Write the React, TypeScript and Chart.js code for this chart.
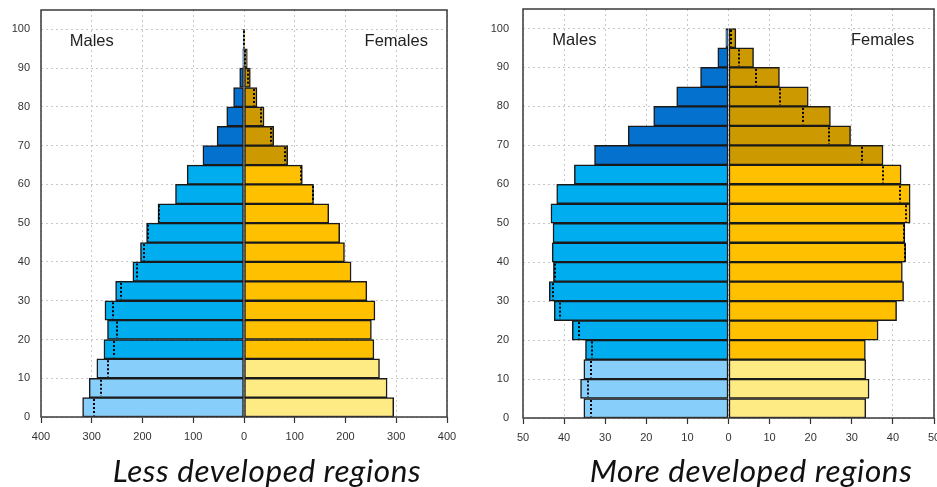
import React, { useEffect, useRef } from "react";
import { Chart, registerables } from "chart.js";

Chart.register(...registerables);

// Lower bound of each 5-year age group (0-4 ... 95-99)
const AGE_GROUPS = [0, 5, 10, 15, 20, 25, 30, 35, 40, 45, 50, 55, 60, 65, 70, 75, 80, 85, 90, 95];

// Less developed regions (millions)
const LESS_MALES = [318, 305, 290, 276, 269, 274, 253, 219, 204, 192, 169.5, 135, 112, 81, 53, 34, 20.5, 8.5, 2.5, 0.5];
const LESS_FEMALES = [295, 282, 267, 256, 251, 258, 242, 211, 198, 188.5, 167, 137, 115, 86, 58.5, 39.5, 25.6, 12.5, 6.5, 0.6];

// More developed regions (millions)
const MORE_MALES = [35.2, 36.0, 35.2, 34.8, 38.0, 42.4, 43.6, 42.6, 42.9, 42.7, 43.2, 41.8, 37.5, 32.6, 24.4, 18.2, 12.6, 6.8, 2.6, 0.65];
const MORE_FEMALES = [33.4, 34.2, 33.4, 33.3, 36.4, 40.9, 42.6, 42.3, 43.1, 42.9, 44.2, 44.2, 42.0, 37.6, 29.7, 24.8, 19.4, 12.4, 6.1, 1.8];

const LESS_X_LIMIT = 400;
const LESS_X_STEP = 100;
const MORE_X_LIMIT = 50;
const MORE_X_STEP = 10;
const AGE_MAX = 105;
const AGE_STEP = 10;

const TITLES = ["Less developed regions", "More developed regions"];
const SIDE_LABELS = ["Males", "Females"];

const MALE_COLORS = ["#87CEFA", "#00AEEF", "#0571CE"];
const FEMALE_COLORS = ["#FFEB84", "#FFC000", "#CC9A00"];
const band = (age: number) => (age < 15 ? 0 : age < 65 ? 1 : 2);

const TICK_FONT = { family: "'Liberation Sans', Arial, sans-serif", size: 11 };

type Props = {
  males: number[];
  females: number[];
  limit: number;
  step: number;
  left: number;
  width: number;
  height: number;
  pad: { top: number; right: number; left: number; bottom: number };
  yAxisWidth: number;
  xAxisHeight: number;
  yTickGap: number;
  labelX: number;
};

function Pyramid(props: Props) {
  const ref = useRef<HTMLCanvasElement | null>(null);

  useEffect(() => {
    const canvas = ref.current;
    if (!canvas) return;
    const { males, females, limit, step } = props;

    const framePlugin = {
      id: "frame",
      afterDraw(chart: any) {
        const { ctx, chartArea: a } = chart;
        ctx.save();
        ctx.strokeStyle = "#3a3a3a";
        ctx.lineWidth = 1.5;
        ctx.setLineDash([]);
        ctx.strokeRect(a.left, a.top, a.right - a.left, a.bottom - a.top);
        ctx.restore();
      },
    };

    const dottedPlugin = {
      id: "dotted",
      afterDatasetsDraw(chart: any) {
        const { ctx } = chart;
        const xs = chart.scales.x;
        const ys = chart.scales.y;
        ctx.save();
        ctx.strokeStyle = "#000";
        ctx.lineWidth = 2;
        ctx.setLineDash([2, 2]);
        AGE_GROUPS.forEach((age, i) => {
          let v: number | null = null;
          if (females[i] < males[i]) v = -females[i];
          else if (males[i] < females[i]) v = males[i];
          if (v === null) return;
          const px = Math.round(xs.getPixelForValue(v));
          const y1 = ys.getPixelForValue(age + 5) + 1.5;
          const y2 = ys.getPixelForValue(age) - 1.5;
          ctx.beginPath();
          ctx.moveTo(px, y1);
          ctx.lineTo(px, y2);
          ctx.stroke();
        });
        ctx.restore();
      },
    };

    const labelPlugin = {
      id: "sideLabels",
      afterDraw(chart: any) {
        const { ctx } = chart;
        const xs = chart.scales.x;
        const ys = chart.scales.y;
        ctx.save();
        ctx.fillStyle = "#222";
        ctx.font = "16.5px 'Liberation Sans', Arial, sans-serif";
        ctx.textAlign = "center";
        ctx.textBaseline = "middle";
        const y = ys.getPixelForValue(97);
        ctx.fillText(SIDE_LABELS[0], xs.getPixelForValue(-props.labelX), y);
        ctx.fillText(SIDE_LABELS[1], xs.getPixelForValue(props.labelX), y);
        ctx.restore();
      },
    };

    const chart = new Chart(canvas, {
      type: "bar",
      data: {
        datasets: [
          {
            label: SIDE_LABELS[0],
            data: AGE_GROUPS.map((a, i) => ({ x: -males[i], y: a + 2.5 })),
            backgroundColor: AGE_GROUPS.map((a) => MALE_COLORS[band(a)]),
            borderColor: "#1a1a1a",
            borderWidth: 1.5,
            borderSkipped: false,
            grouped: false,
            barPercentage: 1,
            categoryPercentage: 1,
          },
          {
            label: SIDE_LABELS[1],
            data: AGE_GROUPS.map((a, i) => ({ x: females[i], y: a + 2.5 })),
            backgroundColor: AGE_GROUPS.map((a) => FEMALE_COLORS[band(a)]),
            borderColor: "#1a1a1a",
            borderWidth: 1.5,
            borderSkipped: false,
            grouped: false,
            barPercentage: 1,
            categoryPercentage: 1,
          },
        ],
      } as any,
      options: {
        indexAxis: "y",
        responsive: false,
        animation: false,
        devicePixelRatio: 1,
        layout: { padding: props.pad },
        plugins: {
          legend: { display: false },
          tooltip: { enabled: false },
          title: { display: false },
        },
        scales: {
          x: {
            type: "linear",
            min: -limit,
            max: limit,
            offset: false,
            ticks: {
              stepSize: step,
              autoSkip: false,
              maxRotation: 0,
              font: TICK_FONT,
              color: "#333",
              padding: 7,
              callback: (v: any) => String(Math.abs(Number(v))),
            },
            grid: {
              color: "#c8c8c8",
              lineWidth: 1,
              drawTicks: true,
              tickLength: 6,
              tickColor: "#333",
              tickWidth: 1.2,
              offset: false,
            },
            border: { display: false, dash: [2, 3] },
            afterFit: (s: any) => {
              s.height = props.xAxisHeight;
            },
          },
          y: {
            type: "linear",
            min: 0,
            max: AGE_MAX,
            offset: false,
            ticks: {
              stepSize: AGE_STEP,
              autoSkip: false,
              font: TICK_FONT,
              color: "#333",
              padding: 0,
            },
            grid: {
              color: "#c8c8c8",
              lineWidth: 1,
              drawTicks: true,
              tickLength: props.yTickGap,
              tickColor: "rgba(0,0,0,0)",
              offset: false,
            },
            border: { display: false, dash: [2, 3] },
            afterBuildTicks: (s: any) => {
              s.ticks = s.ticks.filter((t: any) => t.value <= 100);
            },
            afterFit: (s: any) => {
              s.width = props.yAxisWidth;
            },
          },
        },
      } as any,
      plugins: [framePlugin, dottedPlugin, labelPlugin],
    });
    return () => chart.destroy();
  }, []);

  return (
    <canvas
      ref={ref}
      width={props.width}
      height={props.height}
      style={{ position: "absolute", left: props.left, top: 0, width: props.width, height: props.height }}
    />
  );
}

const titleStyle = (center: number): React.CSSProperties => ({
  position: "absolute",
  left: center - 250,
  width: 500,
  top: 451,
  textAlign: "center",
  fontFamily: "Lato, 'Open Sans', sans-serif",
  fontStyle: "italic",
  fontWeight: 400,
  fontSize: 31.5,
  letterSpacing: 0.6,
  color: "#111",
  whiteSpace: "nowrap",
});

export default function App() {
  return (
    <div
      style={{
        position: "absolute",
        left: 0,
        top: 0,
        width: 937,
        height: 487,
        overflow: "hidden",
        background: "#fff",
      }}
    >
      <Pyramid
        males={LESS_MALES}
        females={LESS_FEMALES}
        limit={LESS_X_LIMIT}
        step={LESS_X_STEP}
        left={0}
        width={470}
        height={452}
        pad={{ top: 10, right: 23, left: 0, bottom: 0 }}
        yAxisWidth={41}
        xAxisHeight={35}
        yTickGap={11}
        labelX={300}
      />
      <Pyramid
        males={MORE_MALES}
        females={MORE_FEMALES}
        limit={MORE_X_LIMIT}
        step={MORE_X_STEP}
        left={470}
        width={480}
        height={452}
        pad={{ top: 9, right: 16, left: 0, bottom: 0 }}
        yAxisWidth={53}
        xAxisHeight={34}
        yTickGap={14}
        labelX={37.5}
      />
      <div style={titleStyle(267)}>{TITLES[0]}</div>
      <div style={titleStyle(751)}>{TITLES[1]}</div>
    </div>
  );
}
